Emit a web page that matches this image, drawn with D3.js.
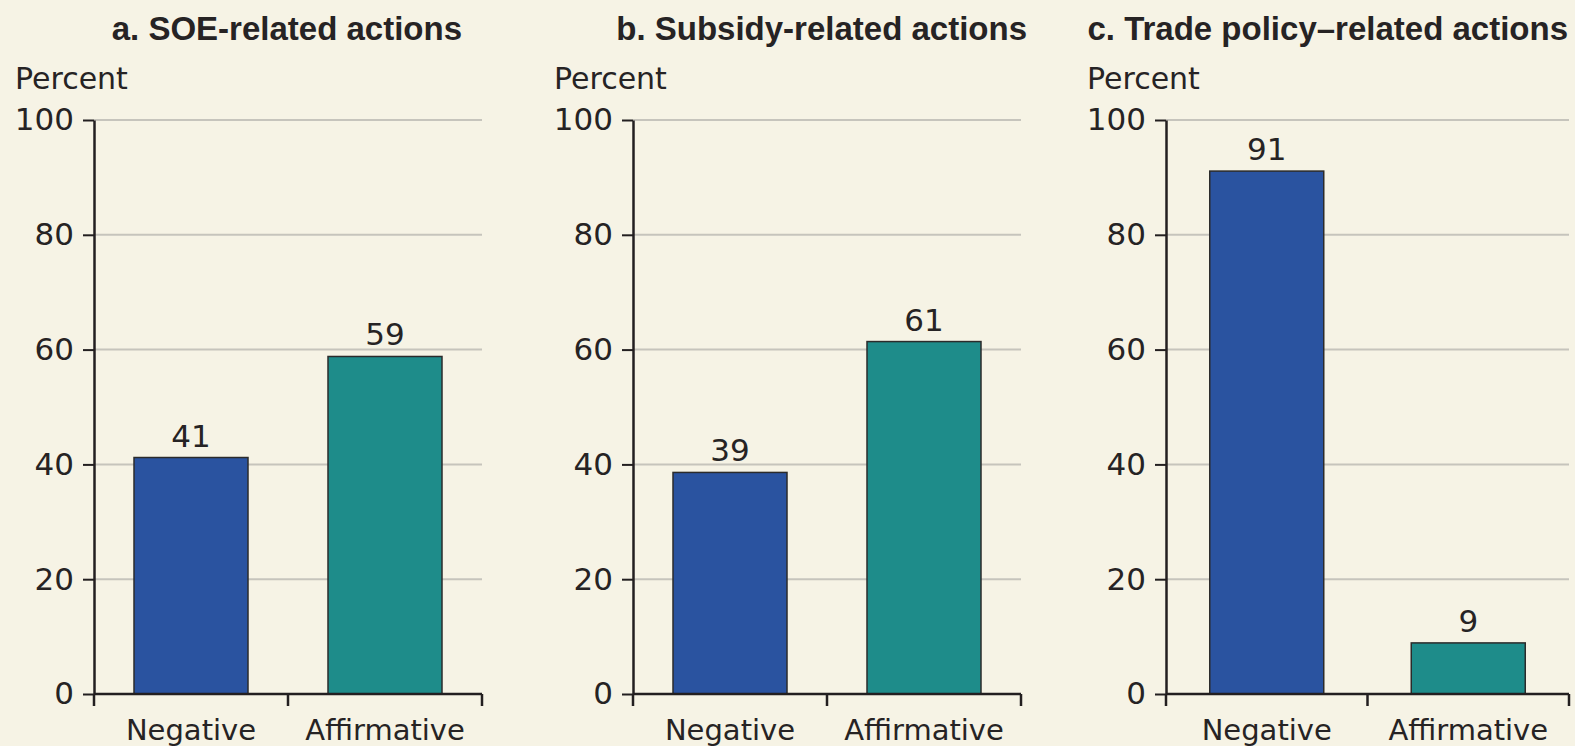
<!DOCTYPE html>
<html>
<head>
<meta charset="utf-8">
<script src="https://cdn.jsdelivr.net/npm/d3@7"></script>
<style>
  html, body { margin: 0; padding: 0; background: #f6f3e5; }
  svg { display: block; }
  text { font-family: "DejaVu Sans", sans-serif; fill: #262324; }
</style>
</head>
<body>
<svg id="chart" width="1575" height="746"></svg>
<script>
// ---- data ----
const categories = ["Negative", "Affirmative"];
const panelTitles = ["a. SOE-related actions", "b. Subsidy-related actions", "c. Trade policy\u2013related actions"];
const soeValues = [41.2, 58.8];
const subsidyValues = [38.6, 61.4];
const tradeValues = [91.1, 8.9];
const yTicks = [0, 20, 40, 60, 80, 100];
const yLabel = "Percent";

// ---- layout ----
const panels = [
  { title: panelTitles[0], values: soeValues,     x0: 94,   x1: 482,  titleRight: 462 },
  { title: panelTitles[1], values: subsidyValues, x0: 633,  x1: 1021, titleRight: 1027 },
  { title: panelTitles[2], values: tradeValues,   x0: 1166, x1: 1569, titleRight: 1568 }
];
const colors = ["#2a53a0", "#1e8c8a"];
const barWidth = 114;

const svg = d3.select("#chart");
svg.append("rect").attr("width", 1575).attr("height", 746).attr("fill", "#f6f3e5");

const y = d3.scaleLinear().domain([0, 100]).range([694, 120]);

panels.forEach(p => {
  const g = svg.append("g");
  const step = (p.x1 - p.x0) / categories.length;
  const pin = 1 - barWidth / step;
  const x = d3.scaleBand().domain(categories).range([p.x0, p.x1])
    .paddingInner(pin).paddingOuter(pin / 2);
  const xb = d3.scaleBand().domain(categories).range([p.x0, p.x1]).padding(0);

  // title
  g.append("text").attr("x", p.titleRight).attr("y", 40)
    .attr("text-anchor", "end")
    .style("font-family", "'Liberation Sans', Arial, sans-serif")
    .style("font-weight", "bold").style("font-size", "33px")
    .attr("fill", "#1e1b1c")
    .text(p.title);

  // y label
  g.append("text").attr("x", p.x0 - 79).attr("y", 89)
    .style("font-size", "30px").text(yLabel);

  // gridlines
  g.selectAll(".grid").data(yTicks.filter(d => d > 0)).enter().append("line")
    .attr("x1", p.x0).attr("x2", p.x1)
    .attr("y1", d => y(d)).attr("y2", d => y(d))
    .attr("stroke", "#c6c4bc").attr("stroke-width", 2);

  // y axis
  const yAxis = d3.axisLeft(y).tickValues(yTicks).tickSize(11).tickPadding(9).tickSizeOuter(0);
  const ya = g.append("g").attr("transform", `translate(${p.x0},0)`).call(yAxis);
  ya.select(".domain").attr("stroke", "#231f20").attr("stroke-width", 2.5);
  ya.selectAll(".tick line").attr("stroke", "#231f20").attr("stroke-width", 2);
  ya.selectAll(".tick text").style("font-size", "31px")
    .style("font-family", "'DejaVu Sans', sans-serif").attr("fill", "#262324");

  // bars
  g.selectAll(".bar").data(p.values).enter().append("rect")
    .attr("x", (d, i) => x(categories[i]))
    .attr("width", x.bandwidth())
    .attr("y", d => y(d))
    .attr("height", d => y(0) - y(d))
    .attr("fill", (d, i) => colors[i])
    .attr("stroke", "#2b2b2b").attr("stroke-width", 1.5);

  // value labels
  g.selectAll(".val").data(p.values).enter().append("text")
    .attr("x", (d, i) => x(categories[i]) + x.bandwidth() / 2)
    .attr("y", d => y(d) - 11)
    .attr("text-anchor", "middle").style("font-size", "31px")
    .text(d => Math.round(d));

  // x axis
  g.append("line").attr("x1", p.x0).attr("x2", p.x1)
    .attr("y1", y(0)).attr("y2", y(0))
    .attr("stroke", "#231f20").attr("stroke-width", 2.5);
  const tickXs = categories.map(c => xb(c)).concat([p.x1]);
  g.selectAll(".xt").data(tickXs).enter().append("line")
    .attr("x1", d => d).attr("x2", d => d)
    .attr("y1", y(0)).attr("y2", y(0) + 12)
    .attr("stroke", "#231f20").attr("stroke-width", 2.5);
  g.selectAll(".xl").data(categories).enter().append("text")
    .attr("x", c => x(c) + x.bandwidth() / 2)
    .attr("y", 740).attr("text-anchor", "middle")
    .style("font-size", "29px").text(c => c);
});
</script>
</body>
</html>
